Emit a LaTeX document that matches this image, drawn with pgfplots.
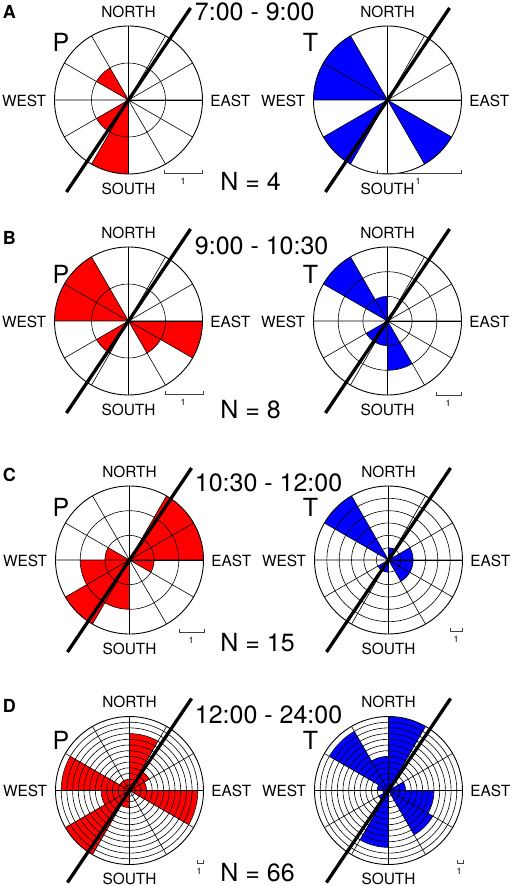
\documentclass[border=0pt]{standalone}
\usepackage{pgfplots}
\pgfplotsset{compat=1.18}
\usepgfplotslibrary{polar}
\usepackage{fontspec}
\setmainfont{TeX Gyre Heros}

% one 30 degree sector: compass start angle, count, colour
\newcommand\sect[3]{%
  \pgfmathsetmacro\aA{mod(420-#1,360)}%
  \pgfmathsetmacro\aB{\aA+10}%
  \pgfmathsetmacro\aC{\aA+20}%
  \pgfmathsetmacro\aD{\aA+30}%
  \edef\doplot{\noexpand\addplot[draw=none,fill=#3,mark=none] coordinates {(0,0) (\aA,#2) (\aB,#2) (\aC,#2) (\aD,#2) (0,0)};}%
  \doplot}
% thick direction line (compass 34 deg)
\newcommand\dirline[1]{\addplot[black,line width=1.65pt,mark=none] coordinates {(56,#1) (236,#1)};}

\pgfplotsset{rose/.style={
  scale only axis, width=74pt, height=74pt,
  anchor=center,
  xmin=0, xmax=360, ymin=0,
  xtick={0,30,...,330},
  xticklabels={}, yticklabels={},
  major tick length=0pt,
  xmajorgrids, ymajorgrids,
  grid style={black, line width=0.3pt},
  axis line style={black, line width=0.45pt},
  axis on top, clip=false,
}}

\newcommand\compass[2]{%
  \node[anchor=south] at (#1,#2-82) {NORTH};
  \node[anchor=north] at (#1,#2+82.5) {SOUTH};
  \node[anchor=east] at (#1-82,#2+0.5) {WEST};
  \node[anchor=west] at (#1+81.5,#2+0.5) {EAST};}
\newcommand\sbar[4]{%
  \draw[line width=0.35pt, black!75] (#1,#3-3) -- (#1,#3) -- (#2,#3) -- (#2,#3-3);
  \node[font=\fontsize{4.5}{5}\selectfont] at (#4,#3+8.4) {1};}

\begin{document}
\begin{tikzpicture}

% ---------- A ----------
\begin{polaraxis}[rose, at={(64.25pt,-50pt)}, ymax=2, ytick={1}]
\sect{180}{2}{red}
\sect{210}{1}{red}
\sect{300}{1}{red}
\dirline{3}
\end{polaraxis}
\begin{polaraxis}[rose, at={(193.75pt,-50pt)}, ymax=1, ytick=\empty]
\sect{120}{1}{blue}
\sect{210}{1}{blue}
\sect{270}{1}{blue}
\sect{300}{1}{blue}
\dirline{1.5}
\end{polaraxis}

% ---------- B ----------
\begin{polaraxis}[rose, at={(64.25pt,-160.5pt)}, ymax=2, ytick={1}]
\sect{90}{2}{red}
\sect{120}{1}{red}
\sect{210}{1}{red}
\sect{270}{2}{red}
\sect{300}{2}{red}
\dirline{3}
\end{polaraxis}
\begin{polaraxis}[rose, at={(193.75pt,-160.5pt)}, ymax=3, ytick={1,2}]
\sect{150}{2}{blue}
\sect{180}{1}{blue}
\sect{210}{1}{blue}
\sect{300}{3}{blue}
\sect{330}{1}{blue}
\dirline{4.5}
\end{polaraxis}

% ---------- C ----------
\begin{polaraxis}[rose, at={(64.75pt,-280pt)}, ymax=3, ytick={1,2}]
\sect{30}{3}{red}
\sect{60}{3}{red}
\sect{90}{1}{red}
\sect{180}{2}{red}
\sect{210}{3}{red}
\sect{240}{2}{red}
\sect{270}{1}{red}
\dirline{4.5}
\end{polaraxis}
\begin{polaraxis}[rose, at={(194.25pt,-280pt)}, ymax=6, ytick={1,...,5}]
\sect{0}{1}{blue}
\sect{60}{2}{blue}
\sect{90}{2}{blue}
\sect{120}{2}{blue}
\sect{180}{1}{blue}
\sect{210}{1}{blue}
\sect{300}{6}{blue}
\dirline{9}
\end{polaraxis}

% ---------- D ----------
\begin{polaraxis}[rose, at={(64.75pt,-395.25pt)}, ymax=13, ytick={1,...,12}]
\sect{0}{10}{red}
\sect{30}{4}{red}
\sect{60}{3}{red}
\sect{90}{12}{red}
\sect{180}{3}{red}
\sect{210}{13}{red}
\sect{240}{5}{red}
\sect{270}{12}{red}
\sect{300}{2}{red}
\sect{330}{2}{red}
\dirline{19.5}
\end{polaraxis}
\begin{polaraxis}[rose, at={(194.25pt,-395.25pt)}, ymax=13, ytick={1,...,12}]
\sect{0}{13}{blue}
\sect{60}{3}{blue}
\sect{90}{8}{blue}
\sect{120}{9}{blue}
\sect{180}{10}{blue}
\sect{210}{2}{blue}
\sect{240}{1}{blue}
\sect{270}{2}{blue}
\sect{300}{12}{blue}
\sect{330}{6}{blue}
\dirline{19.5}
\end{polaraxis}

% ---------- text, in image pixels ----------
\begin{scope}[x=0.5pt, y=-0.5pt, every node/.style={inner sep=0pt}]
\begin{scope}[every node/.append style={font=\fontsize{7.7}{9}\selectfont}]
\compass{128.5}{100}\compass{387.5}{100}
\compass{128.5}{321}\compass{387.5}{321}
\compass{129.5}{560}\compass{388.5}{560}
\compass{129.5}{790.5}\compass{388.5}{790.5}
\end{scope}

\sbar{164}{202.5}{173.3}{183}
\sbar{377}{461}{173.3}{418}
\sbar{165}{203}{394}{183}
\sbar{436}{461}{395}{448}
\sbar{179}{204}{632}{191}
\sbar{450}{462}{631}{456}
\sbar{197}{203}{863}{199}
\sbar{457}{463}{863}{459}

\begin{scope}[every node/.append style={font=\bfseries\fontsize{9}{10}\selectfont, anchor=west}]
\node at (2.5,12) {A};
\node at (2.5,237.5) {B};
\node at (2.5,474.5) {C};
\node at (2.5,706) {D};
\end{scope}

\begin{scope}[every node/.append style={font=\fontsize{12.5}{14}\selectfont}]
\node at (61,42.5) {P};   \node at (310.5,42.5) {T};
\node at (61,274.5) {P};  \node at (310.5,274.5) {T};
\node at (61,507) {P};    \node at (310.5,507) {T};
\node at (61,740) {P};    \node at (310.5,740) {T};
\node[anchor=west] at (194.5,12.3) {7:00 - 9:00};
\node[anchor=west] at (194.5,246.3) {9:00 - 10:30};
\node[anchor=west] at (194.5,482.5) {10:30 - 12:00};
\node[anchor=west] at (194.5,715) {12:00 - 24:00};
\node[anchor=west] at (220,181) {N = 4};
\node[anchor=west] at (220,410) {N = 8};
\node[anchor=west] at (220,643) {N = 15};
\node[anchor=west] at (220,873) {N = 66};
\end{scope}
\end{scope}

\pgfresetboundingbox
\path[use as bounding box] (0pt,0pt) rectangle (256pt,-443pt);
\end{tikzpicture}
\end{document}
